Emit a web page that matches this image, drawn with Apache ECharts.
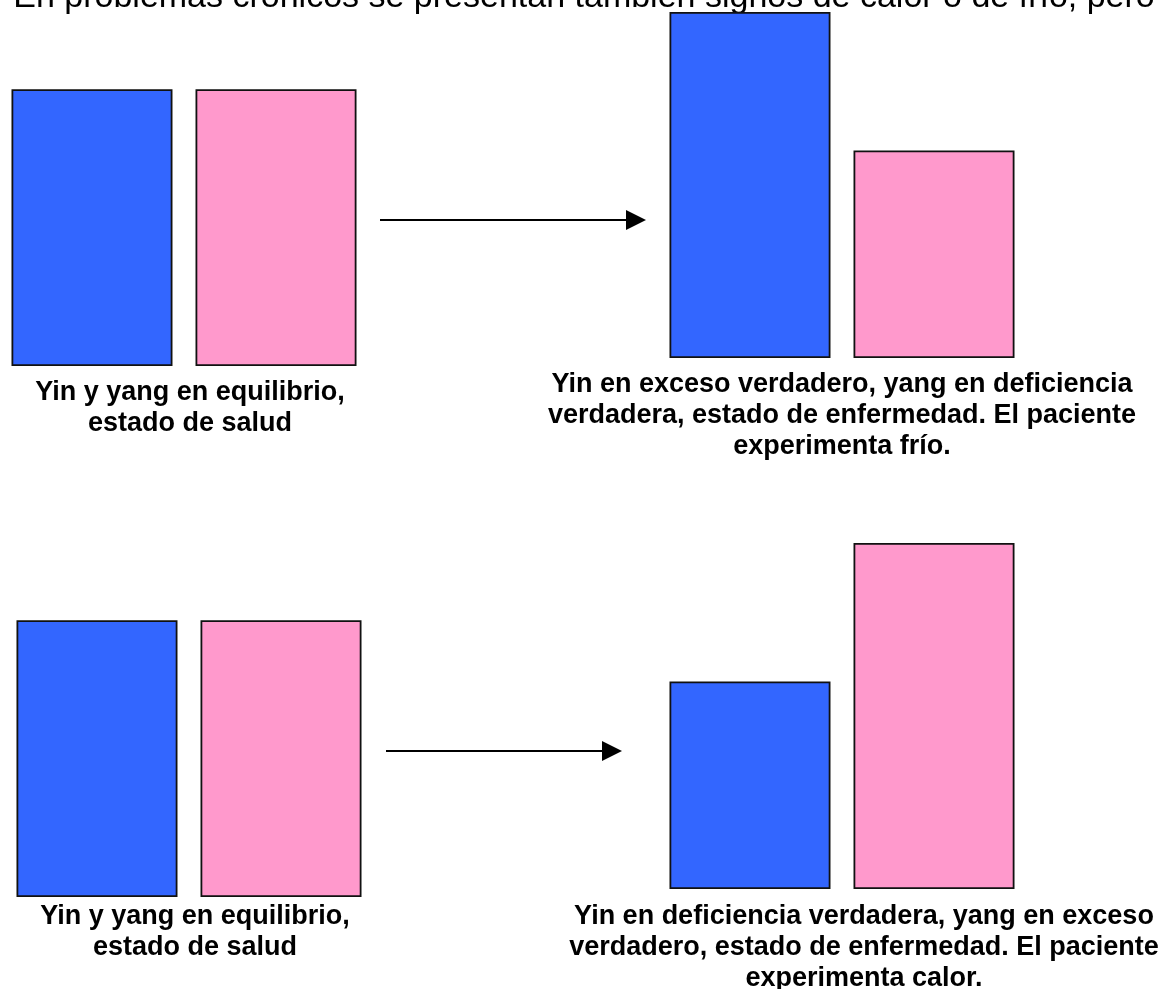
<!DOCTYPE html>
<html><head><meta charset="utf-8">
<script src="https://cdn.jsdelivr.net/npm/echarts@6/dist/echarts.min.js"></script>
<style>html,body{margin:0;padding:0;background:#fff}#c{width:1168px;height:989px}</style>
</head><body><div id="c"></div>
<script>
// ---- data ----
const titleText = 'En problemas crónicos se presentan también signos de calor o de frío, pero';
const states = ['Equilibrio', 'Exceso de yin', 'Equilibrio', 'Deficiencia de yin'];
const seriesNames = ['Yin', 'Yang'];
const yinValues = [4, 5, 4, 3];
const yangValues = [4, 3, 4, 5];
const captions = [
  'Yin y yang en equilibrio,\nestado de salud',
  'Yin en exceso verdadero, yang en deficiencia\nverdadera, estado de enfermedad. El paciente\nexperimenta frío.',
  'Yin y yang en equilibrio,\nestado de salud',
  'Yin en deficiencia verdadera, yang en exceso\nverdadero, estado de enfermedad. El paciente\nexperimenta calor.'
];

// ---- layout / style ----
const FONT = '"Liberation Sans", Arial, Helvetica, sans-serif';
const panels = [
  { left: 0,   top: 20,  capX: 190, capY: 377 },
  { left: 658, top: 12,  capX: 842, capY: 369 },
  { left: 5,   top: 551, capX: 195, capY: 901 },
  { left: 658, top: 543, capX: 864, capY: 901 }
];
const arrows = [
  { x1: 380, x2: 646, y: 220 },
  { x1: 386, x2: 622, y: 751 }
];
const colors = ['#3366FF', '#FF99CC'];

const grid = [], xAxis = [], yAxis = [], series = [], graphic = [];
panels.forEach((p, i) => {
  grid.push({ left: p.left, top: p.top, width: 368, height: 346, containLabel: false });
  xAxis.push({ type: 'category', gridIndex: i, data: [states[i]], show: false });
  yAxis.push({ type: 'value', gridIndex: i, min: 0, max: 5, show: false });
  [yinValues, yangValues].forEach((vals, k) => {
    series.push({
      type: 'bar', name: seriesNames[k], xAxisIndex: i, yAxisIndex: i,
      data: [vals[i]], barWidth: 161, barGap: '14.3%',
      itemStyle: { color: colors[k], borderColor: '#111', borderWidth: 1.8 },
      silent: true
    });
  });
  graphic.push({
    type: 'text', x: p.capX, y: p.capY,
    style: { text: captions[i], fill: '#000', fontSize: 27, fontWeight: 'bold', fontFamily: FONT, lineHeight: 31,
      align: 'center', textAlign: 'center', verticalAlign: 'top', textVerticalAlign: 'top' }
  });
});
arrows.forEach(a => {
  graphic.push({ type: 'line', shape: { x1: a.x1, y1: a.y, x2: a.x2 - 18, y2: a.y },
    style: { stroke: '#000', lineWidth: 2 } });
  graphic.push({ type: 'polygon', shape: { points: [[a.x2 - 20, a.y - 10], [a.x2, a.y], [a.x2 - 20, a.y + 10]] },
    style: { fill: '#000' } });
});
graphic.push({
  type: 'text', x: 584, y: -2,
  style: { text: titleText, fill: '#000', fontSize: 34, fontFamily: FONT, lineHeight: 34,
    align: 'center', textAlign: 'center', verticalAlign: 'middle', textVerticalAlign: 'middle' }
});

const chart = echarts.init(document.getElementById('c'));
chart.setOption({
  animation: false,
  backgroundColor: '#fff',
  grid, xAxis, yAxis, series, graphic,
  tooltip: { show: false }
});
</script></body></html>
